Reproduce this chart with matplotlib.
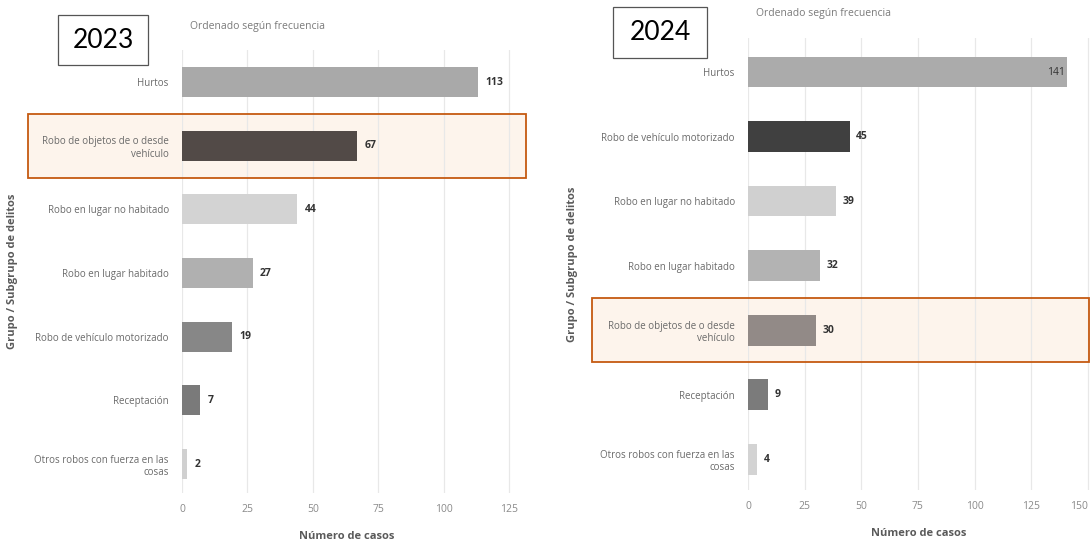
import matplotlib.pyplot as plt
from matplotlib.patches import Rectangle
from matplotlib import transforms

plt.rcParams['font.family'] = ['Open Sans', 'DejaVu Sans']

# 2023
cats_2023 = ["Hurtos", "Robo de objetos de o desde\nvehículo", "Robo en lugar no habitado",
             "Robo en lugar habitado", "Robo de vehículo motorizado", "Receptación",
             "Otros robos con fuerza en las\ncosas"]
vals_2023 = [113, 67, 44, 27, 19, 7, 2]
cols_2023 = ["#a9a9a9", "#524a47", "#d3d3d3", "#b0b0b0", "#878787", "#7a7a7a", "#d0d0d0"]
ticks_2023 = [0, 25, 50, 75, 100, 125]

# 2024
cats_2024 = ["Hurtos", "Robo de vehículo motorizado", "Robo en lugar no habitado",
             "Robo en lugar habitado", "Robo de objetos de o desde\nvehículo", "Receptación",
             "Otros robos con fuerza en las\ncosas"]
vals_2024 = [141, 45, 39, 32, 30, 9, 4]
cols_2024 = ["#ababab", "#404040", "#d0d0d0", "#b3b3b3", "#928a87", "#7b7b7b", "#d3d3d3"]
ticks_2024 = [0, 25, 50, 75, 100, 125, 150]

fig = plt.figure(figsize=(10.91, 5.4), dpi=100)

ax1 = fig.add_axes([0.1668, 0.087, 0.3025, 0.8204])
ax2 = fig.add_axes([0.6856, 0.0926, 0.3131, 0.837])

panels = [
    (ax1, cats_2023, vals_2023, cols_2023, ticks_2023, 126, (6.455, -0.503), 0.47, 1, 28, 526, "2023",
     (58, 15, 148, 65)),
    (ax2, cats_2024, vals_2024, cols_2024, ticks_2024, 150.8, (6.48, -0.527), 0.48, 4, 592, 1089, "2024",
     (613, 7, 707, 58)),
]

W, H = 1091, 540

for ax, cats, vals, cols, ticks, xmax, ylim, bh, hl, rx0, rx1, year, box in panels:
    ypos = list(range(len(cats)))
    ax.barh(ypos, vals, height=bh, color=cols, zorder=2)
    ax.set_xlim(0, xmax)
    ax.set_ylim(*ylim)
    ax.set_yticks(ypos)
    ax.set_yticklabels(cats, fontsize=7, color="#6a6a6a")
    ax.set_xticks(ticks)
    xt = ax.set_xticklabels([str(t) for t in ticks], fontsize=7.5, color="#8a8a8a")
    if ticks[-1] > xmax - 1:
        xt[-1].set_horizontalalignment("right")
    ax.tick_params(axis="both", length=0)
    ax.tick_params(axis="y", pad=9.5)
    ax.tick_params(axis="x", pad=8)
    for s in ax.spines.values():
        s.set_visible(False)
    ax.patch.set_visible(False)
    ax.set_axisbelow(True)
    ax.grid(axis="x", color="#e8e8e8", linewidth=0.9)
    ax.grid(axis="y", visible=False)

    for y, v in zip(ypos, vals):
        if v > 0.9 * xmax:
            ax.text(v - 1.2, y, str(v), ha="right", va="center", fontsize=7.5,
                    color="#333333", zorder=3)
        else:
            ax.text(v + 2.8, y, str(v), ha="left", va="center", fontsize=7.5,
                    fontweight="bold", color="#333333", zorder=3)

    ax.set_xlabel("Número de casos", fontsize=8, fontweight="bold", color="#5a5a5a")
    ax.xaxis.set_label_coords(0.5, -0.085)
    ax.set_ylabel("Grupo / Subgrupo de delitos", fontsize=8, fontweight="bold", color="#5a5a5a")
    ax.yaxis.set_label_coords(-0.497, 0.5)
    ax.text(0.024, 1.054, "Ordenado según frecuencia", transform=ax.transAxes,
            ha="left", va="center", fontsize=7.5, color="#7a7a7a")

    # highlighted category
    tr = transforms.blended_transform_factory(fig.transFigure, ax.transData)
    ax.add_patch(Rectangle((rx0 / W, hl - 0.5), (rx1 - rx0) / W, 1.0, transform=tr,
                           facecolor="#fdf4ec", edgecolor="none", clip_on=False, zorder=0.1))
    ax.add_patch(Rectangle((rx0 / W, hl - 0.5), (rx1 - rx0) / W, 1.0, transform=tr,
                           facecolor="none", edgecolor="#c55a11", linewidth=1.3,
                           clip_on=False, zorder=4))

    # year box
    bx0, by0, bx1, by1 = box
    fig.patches.append(Rectangle((bx0 / W, 1 - by1 / H), (bx1 - bx0) / W, (by1 - by0) / H,
                                 transform=fig.transFigure, facecolor="white",
                                 edgecolor="#555555", linewidth=0.9, figure=fig))
    fig.text((bx0 + bx1) / 2 / W, 1 - (by0 + by1) / 2 / H, year, ha="center", va="center",
             fontsize=19, color="black", family=["Lato", "DejaVu Sans"])

fig.savefig("out.png", dpi=100)
